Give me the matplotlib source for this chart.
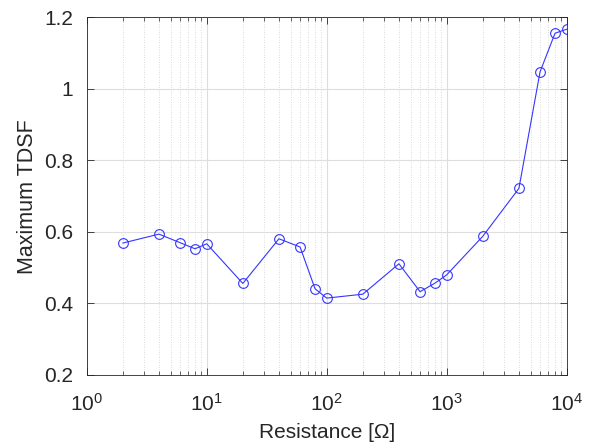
import numpy as np
import matplotlib.pyplot as plt

plt.rcParams['font.family'] = ['Liberation Sans', 'DejaVu Sans']

# resistance values and measured maximum TDSF
resistance = [2, 4, 6, 8, 10, 20, 40, 60, 80, 100,
              200, 400, 600, 800, 1000, 2000, 4000, 6000, 8000, 10000]
max_tdsf = [0.569, 0.594, 0.570, 0.553, 0.567, 0.456, 0.581, 0.558, 0.441, 0.415,
            0.426, 0.511, 0.433, 0.457, 0.480, 0.588, 0.722, 1.048, 1.156, 1.167]

fig = plt.figure(figsize=(5.94, 4.48), dpi=100)
ax = fig.add_axes([0.146, 0.163, 0.808, 0.798])

ax.semilogx(resistance, max_tdsf, '-o', color='#3535ff', lw=0.8,
            markersize=7, markerfacecolor='none', markeredgewidth=0.8)

ax.set_xlim(1, 1e4)
ax.set_ylim(0.2, 1.2)
ax.set_yticks([0.2, 0.4, 0.6, 0.8, 1.0, 1.2])
ax.set_yticklabels(['0.2', '0.4', '0.6', '0.8', '1', '1.2'])

ax.grid(True, which='major', color='#dedede', lw=0.8, ls='-')
ax.grid(True, which='minor', color='#cfcfcf', lw=0.6, ls=(0, (1, 2)))
ax.set_axisbelow(True)

ax.tick_params(which='both', direction='in', top=True, right=True,
               labelsize=15, colors='#262626')
ax.tick_params(axis='x', pad=13)
ax.tick_params(axis='y', pad=10)
ax.tick_params(which='major', length=5, width=0.6)
ax.tick_params(which='minor', length=3, width=0.5)
ax.tick_params(axis='y', which='minor', left=False, right=False)
for s in ax.spines.values():
    s.set_color('#262626')
    s.set_linewidth(0.6)

ax.set_xlabel('Resistance [\u03a9]', fontsize=15, color='#262626', labelpad=6)
ax.set_ylabel('Maximum TDSF', fontsize=15.5, color='#262626', labelpad=4)

fig.savefig('out.png', dpi=100)
